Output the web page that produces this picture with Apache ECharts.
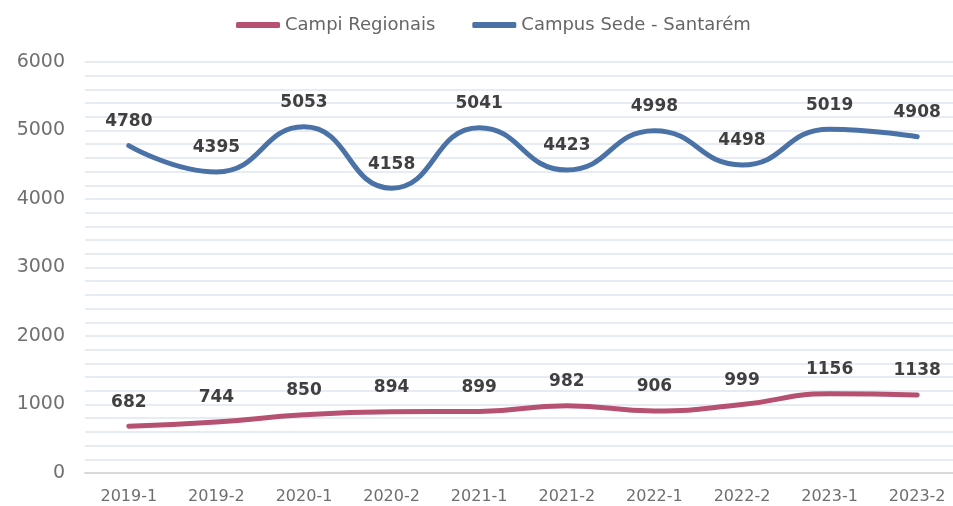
<!DOCTYPE html>
<html>
<head>
<meta charset="utf-8">
<style>
	html, body { margin: 0; padding: 0; background: #fff; overflow: hidden; }
	#chart { width: 961px; height: 506px; }
</style>
<script src="https://cdn.jsdelivr.net/npm/echarts@6/dist/echarts.min.js"></script>
</head>
<body>
<div id="chart"></div>
<script>
	//数据
	var categories = ['2019-1', '2019-2', '2020-1', '2020-2', '2021-1', '2021-2', '2022-1', '2022-2', '2023-1', '2023-2'];
	var campiRegionais = [682, 744, 850, 894, 899, 982, 906, 999, 1156, 1138];
	var campusSede = [4780, 4395, 5053, 4158, 5041, 4423, 4998, 4498, 5019, 4908];
	var seriesNames = ['Campi Regionais', 'Campus Sede - Santarém'];

	var fontFamily = '"DejaVu Sans", sans-serif';

	function lineSeries(name, data, color) {
		return {
			name: name,
			type: 'line',
			data: data,
			smooth: 0.5,
			symbol: 'circle',
			symbolSize: 1,
			showSymbol: true,
			lineStyle: { color: color, width: 5, cap: 'round' },
			itemStyle: { color: color },
			label: {
				show: true,
				position: 'top',
				distance: 15,
				color: '#404040',
				fontSize: 17,
				fontWeight: 'bold',
				fontFamily: fontFamily
			}
		};
	}

	var myChart = echarts.init(document.getElementById('chart'));
	myChart.setOption({
		animation: false,
		legend: {
			top: 11,
			left: 231,
			icon: 'roundRect',
			itemWidth: 44,
			itemHeight: 6,
			itemGap: 37,
			textStyle: { color: '#666666', fontSize: 18, fontFamily: fontFamily },
			data: seriesNames
		},
		grid: { left: 85, right: 0, top: 62, bottom: 33 },
		xAxis: {
			type: 'category',
			data: categories,
			boundaryGap: true,
			axisLine: { lineStyle: { color: '#d9d9d9', width: 2 } },
			axisTick: { show: false },
			axisLabel: { color: '#6e6e6e', fontSize: 16, margin: 16, fontFamily: fontFamily }
		},
		yAxis: {
			type: 'value',
			min: 0,
			max: 6000,
			interval: 200,
			axisLine: { show: false },
			axisTick: { show: false },
			splitLine: { lineStyle: { color: '#e7ecf4', width: 2 } },
			axisLabel: {
				color: '#707070',
				fontSize: 19,
				margin: 20,
				fontFamily: fontFamily,
				formatter: function(v) { return v % 1000 === 0 ? String(v) : ''; }
			}
		},
		series: [
			lineSeries(seriesNames[0], campiRegionais, '#b65172'),
			lineSeries(seriesNames[1], campusSede, '#4a72a7')
		]
	});
</script>
</body>
</html>
